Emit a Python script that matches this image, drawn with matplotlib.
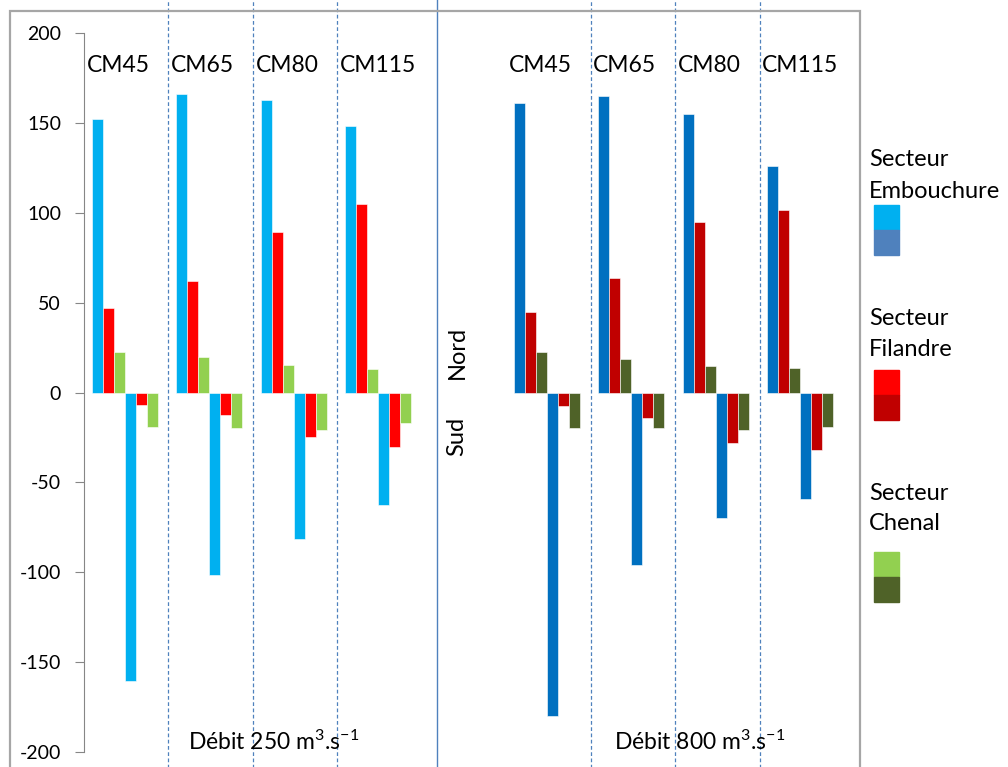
import matplotlib.pyplot as plt
from matplotlib.patches import Rectangle
from matplotlib.lines import Line2D

plt.rcParams['font.family'] = ['Lato', 'DejaVu Sans']
plt.rcParams['axes.unicode_minus'] = False
plt.rcParams['mathtext.fontset'] = 'custom'
plt.rcParams['mathtext.rm'] = 'Lato'
plt.rcParams['mathtext.it'] = 'Lato:italic'
plt.rcParams['mathtext.default'] = 'regular'

# data
groups = ["CM45", "CM65", "CM80", "CM115"]
embouchure_nord_250 = [152, 166, 163, 148]
filandre_nord_250 = [47, 62, 89.5, 105]
chenal_nord_250 = [22.5, 19.5, 15.5, 13]
embouchure_sud_250 = [-160.5, -101.5, -81.5, -62.5]
filandre_sud_250 = [-7, -12.5, -25, -30.5]
chenal_sud_250 = [-19, -19.5, -21, -17]

embouchure_nord_800 = [161, 165, 155, 126]
filandre_nord_800 = [45, 63.5, 95, 101.5]
chenal_nord_800 = [22.5, 18.5, 15, 13.5]
embouchure_sud_800 = [-180, -96, -70, -59.5]
filandre_sud_800 = [-7.5, -14, -28, -32]
chenal_sud_800 = [-19.5, -19.5, -21, -19]

c250 = ['#00B0F0', '#FF0000', '#92D050']
c800 = ['#0070C0', '#C00000', '#4F6228']

W, H = 1008, 767
fig = plt.figure(figsize=(W / 100, H / 100), dpi=100)
ax = fig.add_axes([84 / W, 1 - 752 / H, (860 - 84) / W, (752 - 33) / H])

bw = 0.1302
off = 0.091


def draw_block(slots, series, colors):
    for i, k in enumerate(slots):
        x0 = k + off
        for j in range(3):
            ax.bar(x0 + j * bw, series[j][i], bw, align='edge', color=colors[j],
                   edgecolor='white', linewidth=0.4)
        for j in range(3):
            ax.bar(x0 + (3 + j) * bw, series[3 + j][i], bw, align='edge', color=colors[j],
                   edgecolor='white', linewidth=0.4)


draw_block([0, 1, 2, 3], [embouchure_nord_250, filandre_nord_250, chenal_nord_250,
                          embouchure_sud_250, filandre_sud_250, chenal_sud_250], c250)
draw_block([5, 6, 7, 8], [embouchure_nord_800, filandre_nord_800, chenal_nord_800,
                          embouchure_sud_800, filandre_sud_800, chenal_sud_800], c800)

ax.set_xlim(0, (860 - 84) / 84.46)
ax.set_ylim(-200, 200)
ax.set_yticks([-200, -150, -100, -50, 0, 50, 100, 150, 200])
ax.tick_params(axis='y', direction='out', length=6.5, width=0.8, color='#868686',
               labelsize=14, pad=10)
ax.set_xticks([])
for s in ['top', 'right', 'bottom']:
    ax.spines[s].set_visible(False)
ax.spines['left'].set_color('#868686')
ax.spines['left'].set_linewidth(0.8)
ax.patch.set_alpha(0)

# group labels
for slots in ([0, 1, 2, 3], [5, 6, 7, 8]):
    for k, g in zip(slots, groups):
        ax.text(k + 0.03, 182, g, fontsize=16.5, ha='left', va='center')

ax.text(4.416, 22.5, "Nord", rotation=90, fontsize=17, ha='center', va='center')
ax.text(4.416, -24.5, "Sud", rotation=90, fontsize=17, ha='center', va='center')
ax.text(2.25, -194.5, "Débit 250 m$^{3}$.s$^{-1}$", fontsize=16.5, ha='center', va='center')
ax.text(7.29, -194.5, "Débit 800 m$^{3}$.s$^{-1}$", fontsize=16.5, ha='center', va='center')

# separators
for xs in [1, 2, 3, 6, 7, 8]:
    ax.add_line(Line2D([xs, xs], [-230, 230], color='#4F81BD', lw=0.9,
                       ls=(0, (3, 2)), clip_on=False))
ax.add_line(Line2D([4.18, 4.18], [-230, 230], color='#4F81BD', lw=1.0, clip_on=False))

# outer frame
fig.patches.append(Rectangle((10 / W, -0.05), 850 / W, 1.05 - 11 / H,
                             transform=fig.transFigure, fill=False,
                             edgecolor='#A6A6A6', linewidth=1.6))

# legend
leg = [("Secteur", "Embouchure", ['#00B0F0', '#4F81BD'], 160, 205),
       ("Secteur", "Filandre", ['#FF0000', '#C00000'], 319, 370),
       ("Secteur", "Chenal", ['#92D050', '#4F6228'], 493, 552)]
for l1, l2, cols, ty, py in leg:
    fig.text(869 / W, 1 - ty / H, l1, fontsize=17, ha='left', va='center')
    fig.text(869 / W, 1 - (ty + 31) / H, l2, fontsize=17, ha='left', va='center')
    fig.patches.append(Rectangle((874 / W, 1 - (py + 25) / H), 25 / W, 25 / H,
                                 transform=fig.transFigure, color=cols[0]))
    fig.patches.append(Rectangle((874 / W, 1 - (py + 50) / H), 25 / W, 25 / H,
                                 transform=fig.transFigure, color=cols[1]))

fig.savefig('out.png', dpi=100)
